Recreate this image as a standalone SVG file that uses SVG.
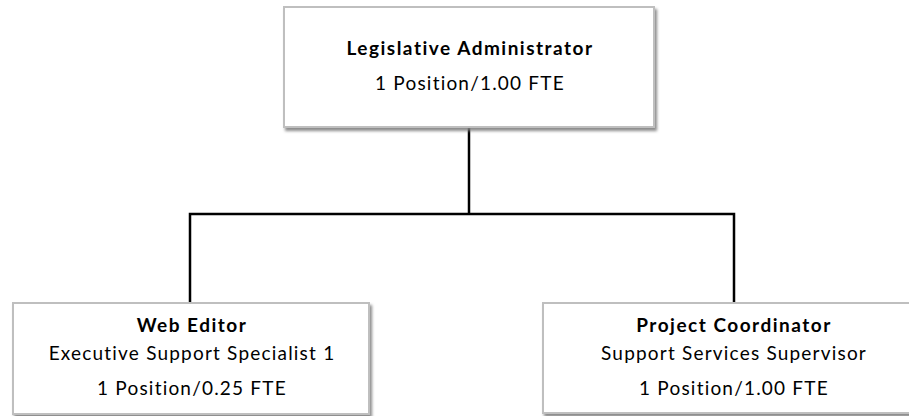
<svg xmlns="http://www.w3.org/2000/svg" width="909" height="416" viewBox="0 0 909 416">
<defs>
<filter id="sh" x="-5%" y="-10%" width="115%" height="130%">
<feDropShadow dx="2" dy="3" stdDeviation="1.5" flood-color="#7f7f7f" flood-opacity="0.9"/>
</filter>
<style>
.box{fill:#fff;stroke:#bfbfbf;stroke-width:2;filter:url(#sh)}
.t{font-family:Lato,"Liberation Sans",Arial,sans-serif;font-size:19px;fill:#000;text-anchor:middle;letter-spacing:1.2px}
.b{font-weight:bold;letter-spacing:1.5px}
.c{fill:none;stroke:#000;stroke-width:2.5}
</style>
</defs>
<rect width="909" height="416" fill="#fff"/>
<g id="connectors">
<path class="c" d="M469 127 V214"/>
<path class="c" d="M190 303 V214 H734 V303"/>
</g>
<g id="legislative-administrator">
<rect class="box" x="284" y="7" width="370" height="120"/>
<text class="t b" x="470" y="55">Legislative Administrator</text>
<text class="t" x="470" y="90">1 Position/1.00 FTE</text>
</g>
<g id="web-editor">
<rect class="box" x="13" y="303" width="356" height="111"/>
<text class="t b" x="192" y="332">Web Editor</text>
<text class="t" x="192" y="360">Executive Support Specialist 1</text>
<text class="t" x="192" y="395">1 Position/0.25 FTE</text>
</g>
<g id="project-coordinator">
<rect class="box" x="543" y="303" width="372" height="110"/>
<text class="t b" x="734" y="332">Project Coordinator</text>
<text class="t" x="734" y="360">Support Services Supervisor</text>
<text class="t" x="734" y="395">1 Position/1.00 FTE</text>
</g>
</svg>
